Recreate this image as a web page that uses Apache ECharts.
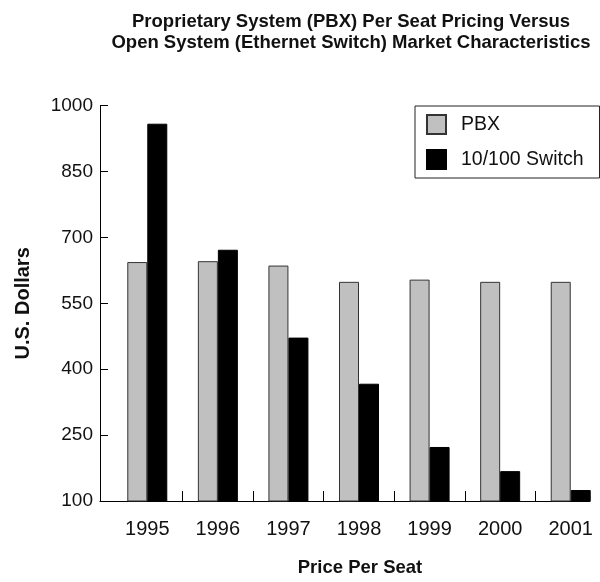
<!DOCTYPE html>
<html>
<head>
<meta charset="utf-8">
<script src="https://cdn.jsdelivr.net/npm/echarts@6/dist/echarts.min.js"></script>
<style>html,body{margin:0;padding:0;background:#fff}#c{width:600px;height:582px}</style>
</head>
<body>
<div id="c"></div>
<script>
const years = [1995, 1996, 1997, 1998, 1999, 2000, 2001];
const pbx = [644, 646, 636, 599, 604, 599, 599];
const switch100 = [959, 672, 472, 367, 223, 168, 125];
const yTicks = [100, 250, 400, 550, 700, 850, 1000];
const seriesNames = ['PBX', '10/100 Switch'];
const titleText = 'Proprietary System (PBX) Per Seat Pricing Versus\nOpen System (Ethernet Switch) Market Characteristics';
const xName = 'Price Per Seat';
const yName = 'U.S. Dollars';

const FONT = '"Liberation Sans", Arial, sans-serif';
const chart = echarts.init(document.getElementById('c'), null, {renderer: 'canvas'});
const dividers = years.slice(0, -1).map(y => y + 0.5);

chart.setOption({
  animation: false,
  backgroundColor: '#fff',
  title: {
    text: titleText,
    left: 346,
    top: 6,
    textAlign: 'center',
    textStyle: {fontFamily: FONT, fontWeight: 'bold', fontSize: 18.5, lineHeight: 21, color: '#111'}
  },
  legend: {
    orient: 'vertical',
    left: 415,
    top: 106,
    padding: [8, 16, 8, 11],
    itemWidth: 19,
    itemHeight: 19,
    itemGap: 14,
    icon: 'rect',
    borderColor: '#222',
    borderWidth: 1,
    data: seriesNames,
    textStyle: {fontFamily: FONT, fontSize: 19.5, color: '#111', padding: [0, 0, 0, 10]}
  },
  grid: {left: 100, right: 10, top: 105.7, bottom: 79, containLabel: false},
  xAxis: {
    type: 'value',
    min: 1994.33,
    max: 2001.273,
    name: xName,
    nameLocation: 'middle',
    nameGap: 57,
    nameTextStyle: {fontFamily: FONT, fontWeight: 'bold', fontSize: 18.5, color: '#111', padding: [0, 0, 0, 30]},
    axisLine: {show: true, lineStyle: {color: '#000', width: 1}},
    axisTick: {show: true, inside: true, length: 10, customValues: dividers, lineStyle: {color: '#000'}},
    axisLabel: {customValues: years, fontFamily: FONT, fontSize: 20, color: '#111', margin: 18, formatter: v => String(v)},
    splitLine: {show: false}
  },
  yAxis: {
    type: 'value',
    min: yTicks[0],
    max: yTicks[yTicks.length - 1],
    interval: 150,
    name: yName,
    nameLocation: 'middle',
    nameRotate: 90,
    nameGap: 67,
    nameTextStyle: {fontFamily: FONT, fontWeight: 'bold', fontSize: 20, color: '#111'},
    axisLine: {show: true, lineStyle: {color: '#000', width: 1}},
    axisTick: {show: true, inside: true, length: 8, lineStyle: {color: '#000'}},
    axisLabel: {fontFamily: FONT, fontSize: 19, color: '#111', margin: 7, formatter: v => String(v)},
    splitLine: {show: false}
  },
  series: [
    {
      name: seriesNames[0], type: 'bar', barWidth: 20, barGap: '0%',
      itemStyle: {color: '#c0c0c0', borderColor: '#333', borderWidth: 1},
      data: years.map((y, i) => [y, pbx[i]])
    },
    {
      name: seriesNames[1], type: 'bar', barWidth: 20, barGap: '0%',
      itemStyle: {color: '#000', borderColor: '#000', borderWidth: 1},
      data: years.map((y, i) => [y, switch100[i]])
    }
  ]
});
</script>
</body>
</html>
